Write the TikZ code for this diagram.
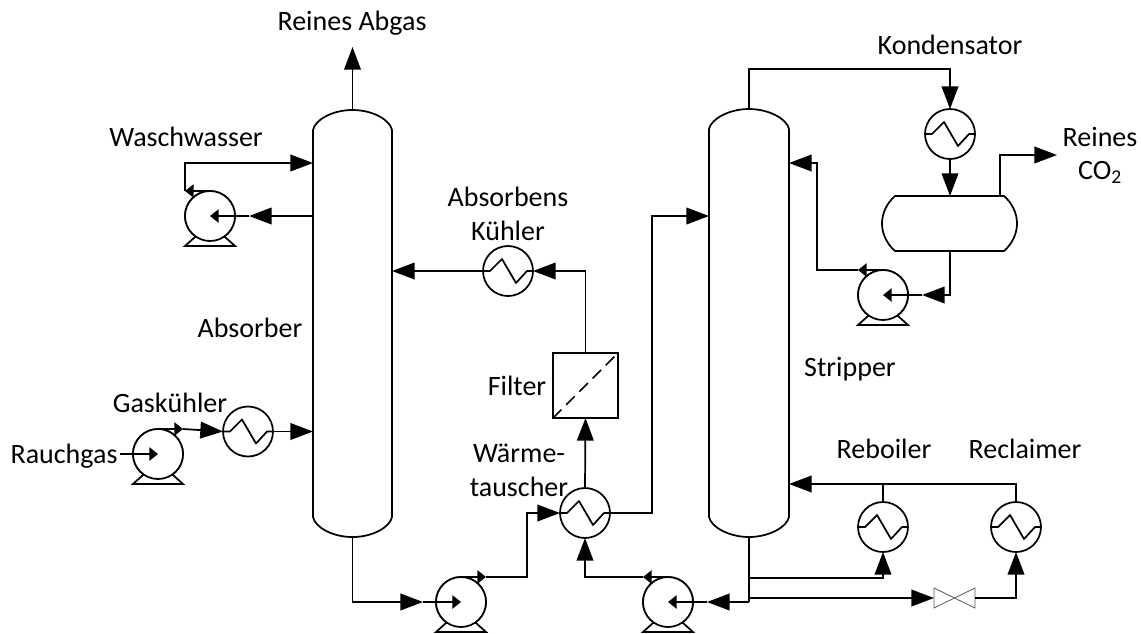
\documentclass[tikz,border=0pt]{standalone}
\usepackage{fontspec}
\setmainfont{Carlito}
\usetikzlibrary{arrows.meta}
\tikzset{
  Bg/.tip={Triangle[length=17pt,width=12.5pt]},
  Sm/.tip={Triangle[length=6.5pt,width=10pt]},
  pipe/.style={draw=black,line width=1.3pt},
  big/.style={pipe,-{Bg}},
  tiny/.style={pipe,-{Sm}},
  rot/.style={circle,draw=black,line width=1.3pt,minimum size=37.5pt,inner sep=0pt,outer sep=0pt,fill=white},
  tag/.style={anchor=base,font=\fontsize{21}{25}\selectfont,inner sep=0pt,text=black},
  vessel/.style={rectangle,inner sep=0pt,outer sep=0pt}
}
\newcommand{\pumpbase}[1]{\draw[pipe,fill=white,line join=miter] ([shift={(-25,30)}]#1) -- ([shift={(25,30)}]#1) -- ([shift={(15,21)}]#1) -- ([shift={(-15,21)}]#1) -- cycle;}
\newcommand{\zigzag}[1]{\draw[pipe,line join=round] ([shift={(-25,0)}]#1) -- ([shift={(-18,0)}]#1) -- ([shift={(-6,-12)}]#1) -- ([shift={(8,12)}]#1) -- ([shift={(19,0)}]#1) -- ([shift={(25,0)}]#1);}
\begin{document}
\begin{tikzpicture}[x=0.75pt,y=-0.75pt]
\useasboundingbox (0,0) rectangle (1141,633);
\fill[white] (0,0) rectangle (1141,633);

% vessels
\node[vessel,minimum width=59.25pt,minimum height=320.25pt] (absorber) at (352.5,323.5) {};
\draw[pipe] (313,130) .. controls (315,120) and (332,110) .. (352.5,110)
  .. controls (373,110) and (390,120) .. (392,130) -- (392,517)
  .. controls (390,527) and (373,537) .. (352.5,537)
  .. controls (332,537) and (315,527) .. (313,517) -- cycle;
\node[vessel,minimum width=60pt,minimum height=321pt] (stripper) at (749,323) {};
\draw[pipe] (709,129) .. controls (711,119) and (729,109) .. (749,109)
  .. controls (769,109) and (787,119) .. (789,129) -- (789,517)
  .. controls (787,527) and (769,537) .. (749,537)
  .. controls (729,537) and (711,527) .. (709,517) -- cycle;
\node[vessel,minimum width=101.25pt,minimum height=41.25pt] (drum) at (949.5,223.5) {};
\draw[pipe] (895,196) -- (1004,196) .. controls (1012,203) and (1017,213) .. (1017,223.5)
  .. controls (1017,234) and (1012,244) .. (1004,251) -- (895,251)
  .. controls (887,244) and (882,234) .. (882,223.5)
  .. controls (882,213) and (887,203) .. (895,196) -- cycle;

% pumps
\node[rot] (p1) at (210,216) {};
\node[rot] (p2) at (158,454) {};
\node[rot] (p3) at (461,602) {};
\node[rot] (p4) at (668,602) {};
\node[rot] (p5) at (883,295) {};
\pumpbase{p1.center}\pumpbase{p2.center}\pumpbase{p3.center}\pumpbase{p4.center}\pumpbase{p5.center}
\node[rot] at (p1) {};\node[rot] at (p2) {};\node[rot] at (p3) {};\node[rot] at (p4) {};\node[rot] at (p5) {};

% heat exchangers
\node[rot] (gk) at (248,431.5) {};
\node[rot] (ak) at (508,271) {};
\node[rot] (wt) at (585,513) {};
\node[rot] (kd) at (950,134) {};
\node[rot] (rb) at (883,527) {};
\node[rot] (rc) at (1016,527) {};
\zigzag{gk.center}\zigzag{ak.center}\zigzag{wt.center}\zigzag{kd.center}\zigzag{rb.center}\zigzag{rc.center}

% filter and valve
\node[draw=black,line width=1.3pt,minimum size=48.75pt,inner sep=0pt,outer sep=0pt] (filter) at (585.5,385.5) {};
\draw[line width=1.1pt,dash pattern=on 9pt off 5pt] (filter.south west) -- (filter.north east);
\node[vessel,minimum width=30.75pt,minimum height=15pt] (valve) at (954.5,598) {};
\draw[draw=black!65,line width=.6pt] (valve.north west) -- (valve.south east) -- (valve.north east) -- (valve.south west) -- cycle;

% connection points
\coordinate (abgas) at (352.5,47);
\coordinate (absW1) at (313,163);
\coordinate (absW2) at (313,216);
\coordinate (absW3) at (313,431.5);
\coordinate (absE1) at (392,271);
\coordinate (strW1) at (709,216);
\coordinate (strE1) at (789,163);
\coordinate (strE2) at (789,484);
\coordinate (co2) at (1057,155);
\coordinate (p1in) at (249,216);
\coordinate (p2in) at (120,454);
\coordinate (p3in) at (423,602);
\coordinate (p4in) at (707,602);
\coordinate (p5in) at (922,295);
\coordinate (gkin) at (183,429);
\coordinate (p1out) at (185,191);
\coordinate (p3out) at (486,577);
\coordinate (p4out) at (643,577);
\coordinate (p5out) at (858,270);

% absorber
\draw[big] (absorber.north) -- (abgas);
\draw[big] (p1out) -- (185,163) -- (absW1);
\draw[tiny] (p1.north) -- (p1out);
\draw[big] (absW2) -- (p1in);
\draw[tiny] (p1in) -- (p1.center);
\draw[tiny] (p2in) -- (p2.center);
\draw[tiny] (p2.north) -- (gkin);
\draw[big] (gkin) -- (gk.west);
\draw[big] (gk.east) -- (absW3);
\draw[big] (absorber.south) -- (352.5,602) -- (p3in);
\draw[tiny] (p3in) -- (p3.center);
\draw[tiny] (p3.north) -- (p3out);
\draw[big] (p3out) -- (527,577) -- (527,513) -- (wt.west);

% middle
\draw[big] (wt.north) -- (filter.south);
\draw[big] (filter.north) -- (585.5,271) -- (ak.east);
\draw[big] (ak.west) -- (absE1);
\draw[big] (wt.east) -- (652,513) -- (652,216) -- (strW1);
\draw[tiny] (p4.north) -- (p4out);
\draw[big] (p4out) -- (585,577) -- (wt.south);
\draw[tiny] (p4in) -- (p4.center);
\draw[big] (749,602) -- (p4in);

% stripper top
\draw[big] (stripper.north) -- (749,69) -- (950,69) -- (kd.north);
\draw[big] (kd.south) -- (950,196);
\draw[big] (1000,196) -- (1000,155) -- (co2);
\draw[big] (950,251) -- (950,295) -- (p5in);
\draw[tiny] (p5in) -- (p5.center);
\draw[tiny] (p5.north) -- (p5out);
\draw[big] (p5out) -- (817,270) -- (817,163) -- (strE1);

% stripper bottom
\draw[pipe] (stripper.south) -- (749,602);
\draw[big] (749,578) -- (883,578) -- (rb.south);
\draw[big] (749,598) -- (valve.west);
\draw[big] (valve.east) -- (1016,598) -- (rc.south);
\draw[pipe] (rb.north) -- (883,484);
\draw[big] (rc.north) -- (1016,484) -- (strE2);

% labels
\node[tag] (t1) at (352,30) {Reines Abgas};
\node[tag] (t2) at (186,146) {Waschwasser};
\node[tag] (t3) at (250,337) {Absorber};
\node[tag] (t4) at (170,412) {Gask\"uhler};
\node[tag] (t5) at (64,463) {Rauchgas};
\node[tag] (t6) at (508,206) {Absorbens};
\node[tag] (t7) at (508,240) {K\"uhler};
\node[tag] (t8) at (517,395) {Filter};
\node[tag] (t9) at (519,462) {W\"arme-};
\node[tag] (t10) at (519,496) {tauscher};
\node[tag] (t11) at (850,376) {Stripper};
\node[tag] (t12) at (884,458) {Reboiler};
\node[tag] (t13) at (1025,458) {Reclaimer};
\node[tag] (t14) at (950,54) {Kondensator};
\node[tag] (t15) at (1100,146) {Reines};
\node[tag] (t16) at (1100,179) {CO\textsubscript{2}};
\end{tikzpicture}
\end{document}
